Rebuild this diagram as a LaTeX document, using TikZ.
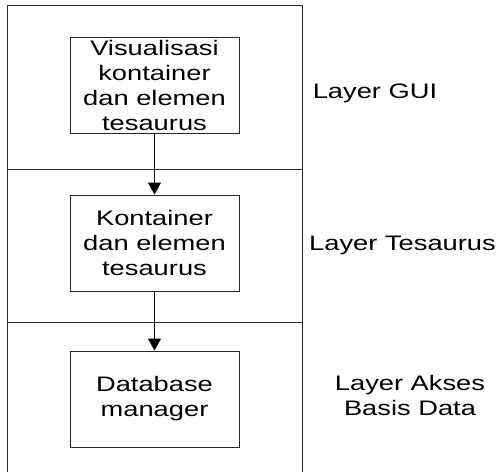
\documentclass[tikz,border=0pt]{standalone}
\usepackage{fontspec}
\setmainfont{Liberation Sans}[FakeStretch=1.3]
\usetikzlibrary{arrows.meta}
\begin{document}
\begin{tikzpicture}[x=1pt,y=-1pt,
  frame/.style={line width=1pt,draw=black!85},
  layerbox/.style={draw=black!85,line width=1pt,minimum width=169pt,minimum height=96pt,
    inner sep=0pt,align=center,font=\fontsize{21}{25}\selectfont},
  lbl/.style={align=center,inner sep=0pt,font=\fontsize{21}{25}\selectfont},
  flow/.style={line width=1pt,-{Triangle[width=13pt,length=12pt]}}]
\useasboundingbox (0,0) rectangle (500,472);
\coordinate (tl) at (7,5);
\coordinate (tr) at (302,5);
\coordinate (bl) at (7,472);
\coordinate (br) at (302,472);
\coordinate (s1l) at (7,169);
\coordinate (s1r) at (302,169);
\coordinate (s2l) at (7,322);
\coordinate (s2r) at (302,322);
\draw[frame] (bl) -- (tl) -- (tr) -- (br);
\draw[frame] (s1l) -- (s1r);
\draw[frame] (s2l) -- (s2r);
\node[layerbox] (b1) at (154.5,85) {Visualisasi\\kontainer\\dan elemen\\tesaurus};
\node[layerbox] (b2) at (154.5,243) {Kontainer\\dan elemen\\tesaurus};
\node[layerbox] (b3) at (154.5,399) {Database\\manager};
\draw[flow] (b1.south) -- (b2.north);
\draw[flow] (b2.south) -- (b3.north);
\node[lbl] (l1) at (375,93) {Layer GUI};
\node[lbl] (l2) at (402.5,245) {Layer Tesaurus};
\node[lbl] (l3) at (410,395) {Layer Akses\\Basis Data};
\end{tikzpicture}
\end{document}
